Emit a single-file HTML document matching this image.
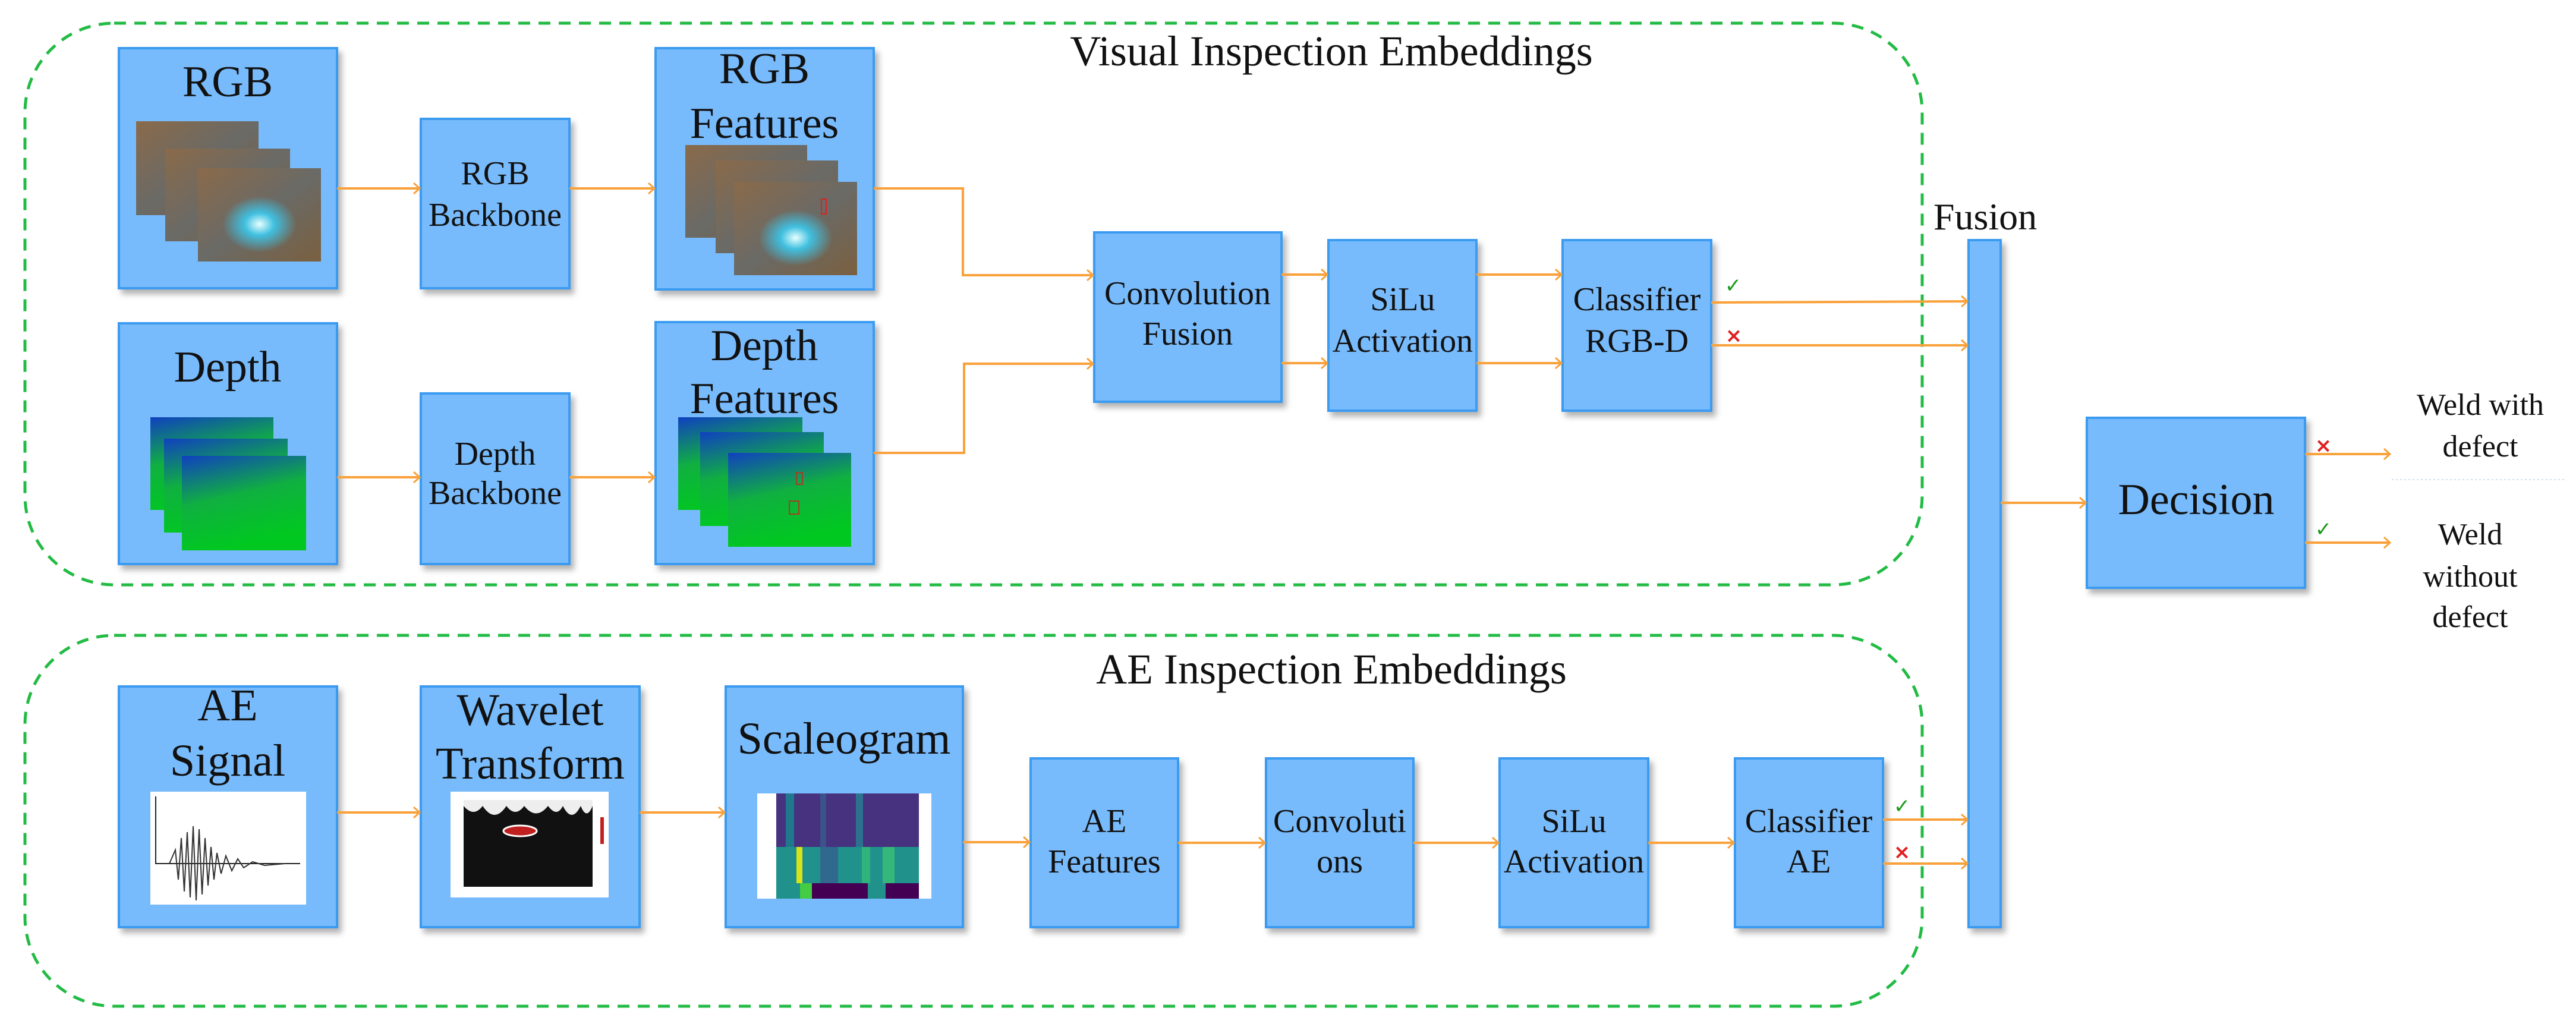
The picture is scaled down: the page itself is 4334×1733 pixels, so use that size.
<!DOCTYPE html>
<html><head><meta charset="utf-8"><style>
html,body{margin:0;padding:0;background:#fff;}
svg{display:block;}
.t text{font-family:'Liberation Serif','DejaVu Serif',serif;fill:#111;}
</style></head><body>
<svg width="4334" height="1733" viewBox="0 0 4334 1733" xmlns="http://www.w3.org/2000/svg">
<defs>
<marker id="ah" markerWidth="14" markerHeight="20" refX="12" refY="10" orient="auto" markerUnits="userSpaceOnUse">
<path d="M2,1 L12,10 L2,19" fill="none" stroke="#f9a13a" stroke-width="3"/>
</marker>
<filter id="sh" x="-10%" y="-10%" width="130%" height="130%">
<feDropShadow dx="6" dy="8" stdDeviation="5" flood-color="#000" flood-opacity="0.3"/>
</filter>
<linearGradient id="rgbimg" x1="0" y1="0" x2="1" y2="1">
<stop offset="0" stop-color="#8a6a4a"/><stop offset="0.5" stop-color="#6a6a66"/><stop offset="1" stop-color="#7a6040"/>
</linearGradient>
<radialGradient id="glow" cx="0.5" cy="0.6" r="0.3">
<stop offset="0" stop-color="#e8ffff"/><stop offset="0.4" stop-color="#40c0e0"/><stop offset="1" stop-color="#40c0e0" stop-opacity="0"/>
</radialGradient>
<linearGradient id="dep" x1="0" y1="0" x2="0.3" y2="1">
<stop offset="0" stop-color="#1040c0"/><stop offset="0.5" stop-color="#10b040"/><stop offset="1" stop-color="#00c820"/>
</linearGradient>
</defs>

<!-- dashed groups -->
<rect x="42" y="39" width="3192" height="945" rx="150" fill="none" stroke="#22bb44" stroke-width="5" stroke-dasharray="20,14"/>
<rect x="42" y="1069" width="3192" height="624" rx="150" fill="none" stroke="#22bb44" stroke-width="5" stroke-dasharray="20,14"/>

<g fill="#78bbfc" stroke="#3b9bf0" stroke-width="4" filter="url(#sh)">
<rect x="200" y="81" width="367" height="404"/>
<rect x="708" y="200" width="250" height="285"/>
<rect x="1103" y="81" width="367" height="406"/>
<rect x="1841" y="391" width="315" height="285"/>
<rect x="200" y="544" width="367" height="405"/>
<rect x="708" y="662" width="250" height="287"/>
<rect x="1103" y="542" width="367" height="407"/>
<rect x="2235" y="404" width="249" height="287"/>
<rect x="2629" y="404" width="250" height="287"/>
<rect x="3312" y="404" width="54" height="1156"/>
<rect x="3511" y="703" width="367" height="286"/>
<rect x="200" y="1155" width="367" height="405"/>
<rect x="708" y="1155" width="368" height="405"/>
<rect x="1221" y="1155" width="399" height="405"/>
<rect x="1734" y="1276" width="248" height="284"/>
<rect x="2130" y="1276" width="248" height="284"/>
<rect x="2523" y="1276" width="250" height="284"/>
<rect x="2919" y="1276" width="249" height="284"/>
</g>

<!-- images -->
<g stroke="none">
<rect x="229" y="204" width="206" height="158" fill="url(#rgbimg)"/>
<rect x="278" y="250" width="210" height="156" fill="url(#rgbimg)"/>
<rect x="333" y="283" width="207" height="157" fill="url(#rgbimg)"/>
<rect x="333" y="283" width="207" height="157" fill="url(#glow)"/>
<rect x="1153" y="244" width="205" height="156" fill="url(#rgbimg)"/>
<rect x="1204" y="270" width="206" height="156" fill="url(#rgbimg)"/>
<rect x="1235" y="306" width="207" height="157" fill="url(#rgbimg)"/>
<rect x="1235" y="306" width="207" height="157" fill="url(#glow)"/>
<rect x="1382" y="335" width="8" height="25" fill="none" stroke="#e02020" stroke-width="2"/>
<rect x="253" y="702" width="207" height="156" fill="url(#dep)"/>
<rect x="276" y="738" width="208" height="158" fill="url(#dep)"/>
<rect x="306" y="767" width="209" height="159" fill="url(#dep)"/>
<rect x="1141" y="702" width="209" height="156" fill="url(#dep)"/>
<rect x="1178" y="727" width="208" height="158" fill="url(#dep)"/>
<rect x="1225" y="762" width="207" height="158" fill="url(#dep)"/>
<rect x="1340" y="795" width="10" height="20" fill="none" stroke="#a04020" stroke-width="2"/>
<rect x="1328" y="843" width="16" height="22" fill="none" stroke="#a04020" stroke-width="2"/>
<rect x="253" y="1332" width="262" height="190" fill="#fff"/>
<path d="M262,1340 V1453 H505" stroke="#222" stroke-width="2" fill="none"/>
<path d="M285,1453 L295,1430 L300,1480 L305,1410 L310,1500 L315,1400 L320,1510 L325,1390 L330,1515 L335,1395 L340,1505 L345,1410 L350,1490 L355,1425 L360,1480 L365,1435 L372,1470 L380,1440 L390,1465 L400,1445 L410,1460 L425,1450 L445,1456 L480,1453" stroke="#333" stroke-width="2" fill="none"/>
<rect x="758" y="1332" width="266" height="178" fill="#fff"/>
<rect x="780" y="1346" width="217" height="146" fill="#111"/>
<path d="M780,1346 h217 v10 q-10,25 -20,0 q-15,30 -30,0 q-10,20 -25,0 q-20,25 -40,0 q-15,20 -30,0 q-20,30 -40,0 q-15,20 -32,0z" fill="#eee"/>
<ellipse cx="875" cy="1398" rx="28" ry="9" fill="#c02020" stroke="#fff" stroke-width="3"/>
<rect x="1010" y="1375" width="6" height="45" fill="#c02020"/>
<rect x="1274" y="1335" width="293" height="177" fill="#fff"/>
<rect x="1306" y="1335" width="240" height="90" fill="#46327e"/>
<rect x="1322" y="1335" width="14" height="90" fill="#1f788e"/>
<rect x="1380" y="1335" width="10" height="90" fill="#3b528b"/>
<rect x="1440" y="1335" width="12" height="90" fill="#2c728e"/>
<rect x="1306" y="1425" width="240" height="61" fill="#21918c"/>
<rect x="1340" y="1425" width="10" height="61" fill="#d8e219"/>
<rect x="1380" y="1425" width="30" height="61" fill="#31688e"/>
<rect x="1450" y="1425" width="14" height="61" fill="#2fb47c"/>
<rect x="1485" y="1425" width="20" height="61" fill="#35b779"/>
<rect x="1306" y="1486" width="240" height="26" fill="#440154"/>
<rect x="1306" y="1486" width="40" height="26" fill="#21918c"/>
<rect x="1346" y="1486" width="20" height="26" fill="#44cc44"/>
<rect x="1460" y="1486" width="30" height="26" fill="#21918c"/>
</g>

<!-- labels -->
<g class="t" text-anchor="middle" font-family="Liberation Serif, DejaVu Serif, serif">
<text x="2240" y="110" font-size="72">Visual Inspection Embeddings</text>
<text x="2240" y="1150" font-size="72">AE Inspection Embeddings</text>
<text x="383" y="162" font-size="74">RGB</text>
<text x="833" y="310" font-size="56">RGB</text>
<text x="833" y="380" font-size="56">Backbone</text>
<text x="1286" y="140" font-size="74">RGB</text>
<text x="1286" y="232" font-size="74">Features</text>
<text x="1998" y="512" font-size="56">Convolution</text>
<text x="1998" y="580" font-size="56">Fusion</text>
<text x="383" y="642" font-size="74">Depth</text>
<text x="833" y="782" font-size="56">Depth</text>
<text x="833" y="848" font-size="56">Backbone</text>
<text x="1286" y="606" font-size="74">Depth</text>
<text x="1286" y="695" font-size="74">Features</text>
<text x="2360" y="522" font-size="56">SiLu</text>
<text x="2360" y="592" font-size="56">Activation</text>
<text x="2754" y="522" font-size="56">Classifier</text>
<text x="2754" y="592" font-size="56">RGB-D</text>
<text x="3340" y="386" font-size="64">Fusion</text>
<text x="3695" y="865" font-size="74">Decision</text>
<text x="4173" y="698" font-size="52">Weld with</text>
<text x="4173" y="768" font-size="52">defect</text>
<text x="4156" y="916" font-size="52">Weld</text>
<text x="4156" y="987" font-size="52">without</text>
<text x="4156" y="1055" font-size="52">defect</text>
<text x="383" y="1212" font-size="76">AE</text>
<text x="383" y="1305" font-size="76">Signal</text>
<text x="892" y="1220" font-size="76">Wavelet</text>
<text x="892" y="1310" font-size="76">Transform</text>
<text x="1420" y="1268" font-size="76">Scaleogram</text>
<text x="1858" y="1400" font-size="56">AE</text>
<text x="1858" y="1468" font-size="56">Features</text>
<text x="2254" y="1400" font-size="56">Convoluti</text>
<text x="2254" y="1468" font-size="56">ons</text>
<text x="2648" y="1400" font-size="56">SiLu</text>
<text x="2648" y="1468" font-size="56">Activation</text>
<text x="3043" y="1400" font-size="56">Classifier</text>
<text x="3043" y="1468" font-size="56">AE</text>
</g>

<!-- arrows -->
<g stroke="#f9a13a" stroke-width="4" fill="none" marker-end="url(#ah)">
<path d="M567,317 H706"/>
<path d="M958,317 H1101"/>
<path d="M1470,317 H1620 V463 H1839"/>
<path d="M567,803 H706"/>
<path d="M958,803 H1101"/>
<path d="M1470,762 H1622 V612 H1839"/>
<path d="M2156,462 H2233"/>
<path d="M2156,611 H2233"/>
<path d="M2484,462 H2627"/>
<path d="M2484,611 H2627"/>
<path d="M2879,509 L3310,507"/>
<path d="M2879,581 H3310"/>
<path d="M3366,846 H3509"/>
<path d="M3878,764 H4021"/>
<path d="M3878,913 H4021"/>
<path d="M567,1367 H706"/>
<path d="M1076,1367 H1219"/>
<path d="M1620,1417 H1732"/>
<path d="M1982,1418 H2128"/>
<path d="M2378,1418 H2521"/>
<path d="M2773,1418 H2917"/>
<path d="M3168,1379 H3310"/>
<path d="M3168,1453 H3310"/>
</g>
<path d="M4024,807 H4316" stroke="#cfe0ee" stroke-width="2" stroke-dasharray="3,4"/>

<g font-family="DejaVu Sans,sans-serif" font-size="34" text-anchor="middle" font-weight="bold">
<text x="2916" y="492" fill="#1a9a1a">✓</text>
<text x="2917" y="576" fill="#e02020">×</text>
<text x="3200" y="1368" fill="#1a9a1a">✓</text>
<text x="3200" y="1445" fill="#e02020">×</text>
<text x="3909" y="761" fill="#e02020">×</text>
<text x="3909" y="902" fill="#1a9a1a">✓</text>
</g>
</svg>
</body></html>
